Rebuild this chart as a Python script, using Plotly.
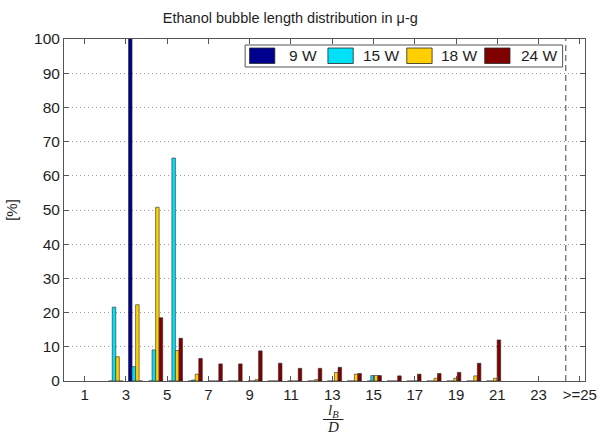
import plotly.graph_objects as go

# Bin centres of the l_B/D histogram and the share of bubbles per bin [%]
bin_centers = [2.51, 3.47, 4.44, 5.40, 6.36, 7.33, 8.29, 9.26, 10.22, 11.18,
               12.15, 13.11, 14.07, 15.04, 16.00, 16.96, 17.93, 18.89, 19.86, 20.82]
p_9w = [0, 100, 0, 0, 0, 0, 0, 0, 0, 0, 0, 0, 0, 0, 0, 0, 0, 0, 0, 0]
p_15w = [21.6, 4.2, 9.1, 65.2, 0.3, 0, 0, 0, 0, 0, 0, 0, 0, 1.6, 0, 0, 0, 0, 0, 0]
p_18w = [7.1, 22.3, 50.8, 8.9, 2.0, 0, 0, 0.4, 0, 0, 0.4, 2.5, 2.0, 1.6, 0, 0, 0.8, 0.8, 1.5, 0.8]
p_24w = [0, 0, 18.5, 12.5, 6.6, 5.0, 5.0, 8.8, 5.2, 3.7, 3.7, 4.0, 2.2, 1.6, 1.5, 2.0, 2.2, 2.5, 5.2, 12.0]

series_names = ["9 W", "15 W", "18 W", "24 W"]
series_colors = ["#00008F", "#00E1F7", "#FFCF00", "#800000"]

tick_vals = [1, 3, 5, 7, 9, 11, 13, 15, 17, 19, 21, 23, 25]
tick_text = ["1", "3", "5", "7", "9", "11", "13", "15", "17", "19", "21", "23", ">=25"]
overflow_edge = 24.32  # dashed separator before the ">=25" bin

W, H = 609, 435
L, R, T, B = 57, 17, 39, 54
PW, PH = W - L - R, H - T - B


def px(x):
    return (x - L) / PW


def py(y):
    return (H - B - y) / PH


FONT = "Liberation Sans, Arial, sans-serif"
TXT = "#1e1e1e"
fig = go.Figure()
for name, vals, col in zip(series_names, [p_9w, p_15w, p_18w, p_24w], series_colors):
    fig.add_trace(go.Bar(x=bin_centers, y=vals, name=name, marker_color=col,
                         marker_line=dict(color="#2a2a2a", width=0.6)))

fig.update_layout(
    width=W, height=H, margin=dict(l=L, r=R, t=T, b=B),
    paper_bgcolor="white", plot_bgcolor="white",
    barmode="group", bargap=0.284, bargroupgap=0,
    showlegend=False,
    font=dict(family=FONT, size=15, color=TXT),
    title=dict(text="Ethanol bubble length distribution in \u03bc-g",
               x=px(312), xanchor="center", y=1 - 18 / H, yanchor="middle",
               font=dict(family=FONT, size=14.5, color=TXT)),
)
fig.update_xaxes(range=[0, 25.25], tickvals=tick_vals, ticktext=tick_text,
                 ticks="inside", ticklen=5, tickcolor="#555",
                 showline=True, linecolor="#555", linewidth=1, mirror="ticks",
                 showgrid=False, zeroline=False,
                 tickfont=dict(family=FONT, size=15, color=TXT))
fig.update_yaxes(range=[0, 100], dtick=10,
                 ticks="inside", ticklen=5, tickcolor="#555",
                 showline=True, linecolor="#555", linewidth=1, mirror="ticks",
                 showgrid=True, gridcolor="#9a9a9a", griddash="1px,3px", gridwidth=1,
                 zeroline=False,
                 tickfont=dict(family=FONT, size=15.5, color=TXT),
                 title=dict(text="[%]", standoff=12,
                            font=dict(family=FONT, size=15, color=TXT)))

# dashed separator for the overflow bin
fig.add_shape(type="line", xref="x", yref="y", x0=overflow_edge, x1=overflow_edge,
              y0=0, y1=100, line=dict(color="#444", width=1, dash="6px,4px"))

# legend box with wide colour swatches
fig.add_shape(type="rect", xref="paper", yref="paper",
              x0=px(243), x1=px(569), y0=py(67), y1=py(45),
              line=dict(color="#555", width=1), fillcolor="white", layer="above")
sw_left = [247.5, 328, 409, 489]
txt_left = [286, 362, 442, 524]
for xl, xt, name, col in zip(sw_left, txt_left, series_names, series_colors):
    fig.add_shape(type="rect", xref="paper", yref="paper",
                  x0=px(xl), x1=px(xl + 26), y0=py(63.5), y1=py(48),
                  line=dict(color="#2a2a2a", width=0.8), fillcolor=col, layer="above")
    fig.add_annotation(xref="paper", yref="paper", x=px(xt), y=py(56),
                       xanchor="left", yanchor="middle", showarrow=False,
                       text=name, font=dict(family=FONT, size=15.5, color=TXT))

# x-axis label: l_B / D as a stacked fraction
SERIF = "Liberation Serif, Times New Roman, serif"
cx = 333.5
fig.add_annotation(xref="paper", yref="paper", x=px(cx), y=py(410.5),
                   xanchor="center", yanchor="middle", showarrow=False,
                   text="<i>l</i><sub><i>B</i></sub>",
                   font=dict(family=SERIF, size=15, color=TXT))
fig.add_shape(type="line", xref="paper", yref="paper",
              x0=px(cx - 10.5), x1=px(cx + 10.5), y0=py(419.5), y1=py(419.5),
              line=dict(color=TXT, width=1))
fig.add_annotation(xref="paper", yref="paper", x=px(cx), y=py(426.5),
                   xanchor="center", yanchor="middle", showarrow=False,
                   text="<i>D</i>",
                   font=dict(family=SERIF, size=15, color=TXT))

fig.write_html("out.html")
